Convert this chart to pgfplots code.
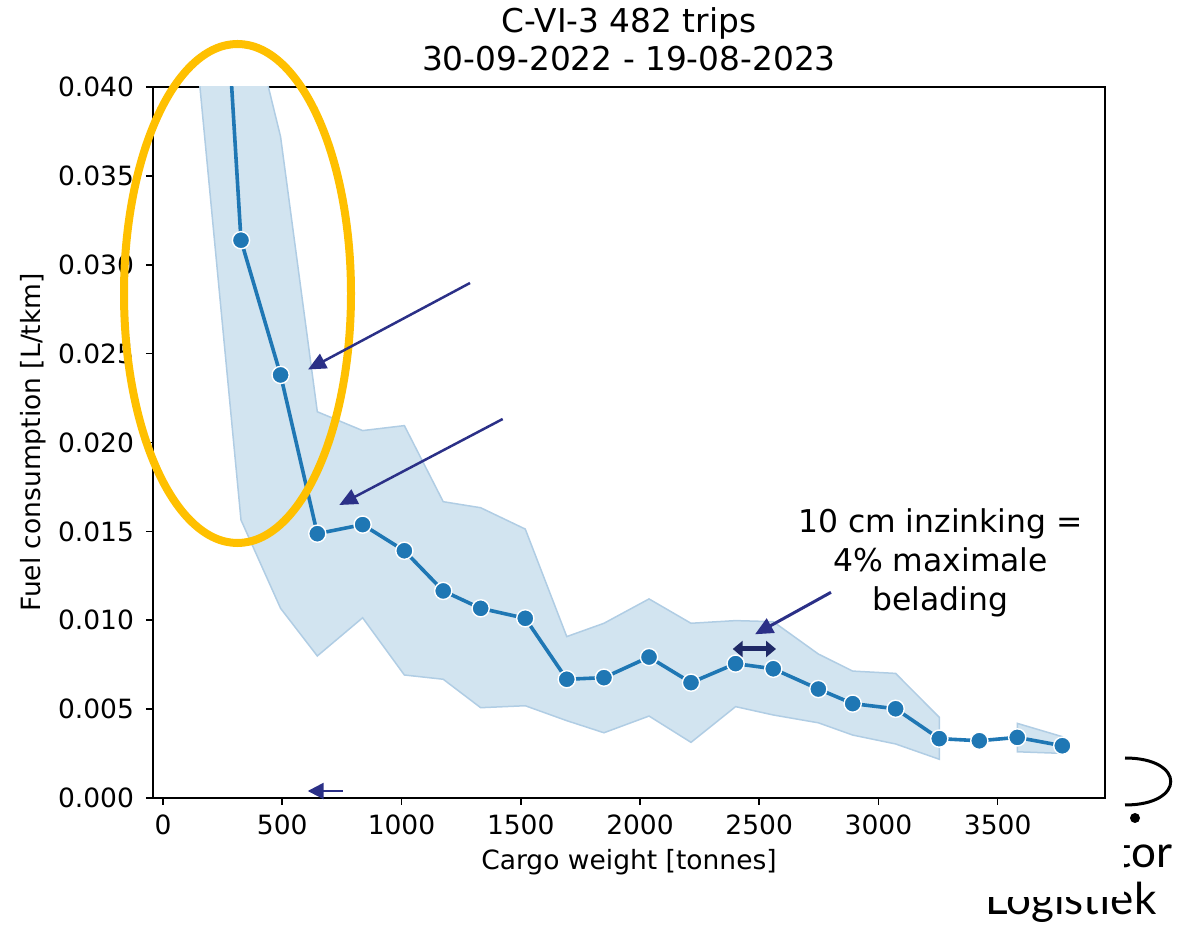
\documentclass[border=0pt]{standalone}
\usepackage{fontspec}
\setmainfont{DejaVu Sans}
\newfontfamily\logofont{Lato}
\usepackage{pgfplots}
\pgfplotsset{compat=1.18}
\usetikzlibrary{arrows.meta}
\definecolor{c0}{HTML}{1F77B4}
\definecolor{bandfill}{HTML}{D2E4F0}
\definecolor{bandedge}{RGB}{176,205,228}
\definecolor{gold}{HTML}{FFC000}
\definecolor{navy}{RGB}{43,48,135}
\definecolor{darknavy}{RGB}{31,41,102}

\begin{document}
\begin{tikzpicture}
\path[use as bounding box] (0,0) rectangle (591.5pt,463pt);
% slide logo (partly hidden behind the chart image)
\begin{scope}[x=0.5pt,y=-0.5pt,yshift=463pt]
  \draw[black, line width=1.5pt] (1125,758) .. controls (1186,758) and (1186,805) .. (1125,805);
  \fill[black] (1135,818) circle[radius=5];
  \begin{scope}
    \clip (1124,820) rectangle (1183,880);
    \node[font=\logofont\fontsize{22}{22}\selectfont, anchor=base east, inner sep=0pt] at (1173,868) {tor};
  \end{scope}
  \begin{scope}
    \clip (1124,880) rectangle (1183,926) (960,897) rectangle (1124,926);
    \node[font=\logofont\fontsize{22}{22}\selectfont, anchor=base west, inner sep=0pt] at (985,915) {Logistiek};
  \end{scope}
\end{scope}

\begin{axis}[
  at={(76.5pt,64pt)}, anchor=south west,
  scale only axis, width=476pt, height=355.5pt,
  xmin=-42, xmax=3950, ymin=0, ymax=0.04,
  xtick={0,500,1000,1500,2000,2500,3000,3500},
  ytick={0,0.005,0.01,0.015,0.02,0.025,0.03,0.035,0.04},
  scaled ticks=false,
  /pgf/number format/1000 sep={},
  /pgf/number format/assume math mode=true,
  yticklabel style={/pgf/number format/.cd, fixed, fixed zerofill, precision=3, /tikz/.cd, xshift=-2.5pt},
  xticklabel style={yshift=-1.5pt},
  tick label style={font=\fontsize{13.25}{15}\selectfont},
  label style={font=\fontsize{13.25}{15}\selectfont},
  xlabel={Cargo weight [tonnes]},
  ylabel={Fuel consumption [L/tkm]},
  xlabel style={at={(axis description cs:0.5,-0.09)}, anchor=center},
  ylabel style={at={(axis description cs:-0.126,0.5)}, anchor=center},
  tick pos=left, tick align=outside, major tick length=3.5pt,
  every tick/.style={black, line width=0.8pt},
  axis line style={line width=0.8pt},
  title={C-VI-3 482 trips\\30-09-2022 - 19-08-2023},
  title style={align=center, font=\fontsize{16.4}{19}\selectfont, at={(axis description cs:0.5,1)}, anchor=south, inner sep=0pt, yshift=2pt},
]
% confidence band, part 1
\addplot[fill=bandfill, draw=bandedge, line width=0.75pt] coordinates {
 (140,0.100) (327,0.0463) (493,0.0372) (647,0.02173) (837,0.02067) (1012,0.02095)
 (1175,0.01667) (1332,0.01633) (1519,0.01513) (1693,0.00908) (1849,0.00983)
 (2038,0.0112) (2214,0.00983) (2401,0.00998) (2559,0.00992) (2748,0.00810)
 (2892,0.00714) (3072,0.00701) (3255,0.00454)
 (3255,0.00218) (3072,0.00304) (2892,0.00354) (2748,0.00423) (2559,0.00467)
 (2401,0.00514) (2214,0.00313) (2038,0.00461) (1849,0.00367) (1693,0.00435)
 (1519,0.00519) (1332,0.00508) (1175,0.00668) (1012,0.00692) (837,0.01014)
 (647,0.00799) (493,0.01067) (327,0.01564) (140,0.0421)
} -- cycle;
% confidence band, part 2
\addplot[fill=bandfill, draw=bandedge, line width=0.75pt] coordinates {
 (3582,0.0042) (3771,0.00345) (3771,0.00251) (3582,0.0026)
} -- cycle;
% mean
\addplot[c0, line width=1.8pt, mark=*, mark size=4.3pt,
  mark options={fill=c0, draw=white, line width=0.7pt}] coordinates {
 (140,0.0727) (327,0.03138) (493,0.0238) (647,0.01487) (837,0.01538)
 (1012,0.01391) (1175,0.01165) (1332,0.01067) (1519,0.01011) (1693,0.00668)
 (1849,0.00677) (2038,0.00793) (2214,0.00649) (2401,0.00756) (2559,0.00727)
 (2748,0.00613) (2892,0.00531) (3072,0.00502) (3255,0.00334) (3423,0.00322)
 (3582,0.00341) (3771,0.00294)
};
\end{axis}

% slide annotations
\begin{scope}[x=0.5pt,y=-0.5pt,yshift=463pt]
  \draw[gold, line width=4pt] (237.5,293.5) ellipse [x radius=113.5, y radius=249.5];
  \draw[navy, line width=1.25pt, -{Triangle[length=9pt,width=8pt]}] (470,283) -- (308,369.5);
  \draw[navy, line width=1.25pt, -{Triangle[length=9pt,width=8pt]}] (502.7,419) -- (339.3,505);
  \draw[navy, line width=1.5pt, -{Triangle[length=9pt,width=8pt]}] (831,592.3) -- (755,634.3);
  \draw[darknavy, line width=2.5pt, {Triangle[length=5pt,width=8pt]}-{Triangle[length=5pt,width=8pt]}] (732.7,649) -- (776,649);
  \draw[navy, line width=1.25pt, -{Triangle[length=8pt,width=8pt]}] (342.7,791) -- (307.7,791);
  \node[align=center, inner sep=0pt, font=\fontsize{15.7}{19.5}\selectfont] at (940.5,563) {10 cm inzinking =\\4\% maximale\\belading};
\end{scope}
\end{tikzpicture}
\end{document}
